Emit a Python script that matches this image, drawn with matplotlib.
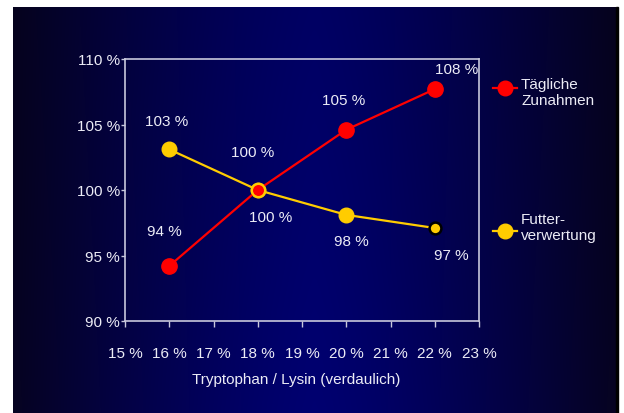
import numpy as np
import matplotlib.pyplot as plt
from matplotlib.lines import Line2D

plt.rcParams['font.family'] = ['Liberation Sans', 'DejaVu Sans']

# Tryptophan / Lysin ratio (%)
trp_lys = [16, 18, 20, 22]
# relative performance (%)
zunahmen = [94.2, 100.0, 104.6, 107.7]
futter = [103.1, 100.0, 98.1, 97.1]
x_ticks = [15, 16, 17, 18, 19, 20, 21, 22, 23]
y_ticks = [90, 95, 100, 105, 110]

RED = '#ff0000'
YEL = '#ffcc00'
TXT = '#ececf6'
FS = 11
W, H = 624, 414
PX = 72 / 100  # points per pixel at dpi 100

fig = plt.figure(figsize=(W / 100, H / 100), dpi=100)
fig.patch.set_facecolor('white')

# dark blue background, brighter in the middle
bg = fig.add_axes([13 / W, 0, (616 - 13) / W, (H - 8) / H])
bg.set_axis_off()
t = np.linspace(-1, 1, 600)
k = np.abs(t) ** 1.3
edge = np.array([6, 3, 32]) / 255
mid = np.array([0, 0, 108]) / 255
row = (1 - k)[:, None] * mid + k[:, None] * edge
v = np.linspace(0, 1, 100)[:, None, None]
img = row[None, :, :] * (0.92 + 0.12 * v)
img = np.clip(img, 0, 1)
bg.imshow(img, aspect='auto', extent=[0, 1, 0, 1], origin='upper')
bg.set_xlim(0, 1)
bg.set_ylim(0, 1)
fig.add_artist(plt.Rectangle((616 / W, 0), 2 / W, (H - 8) / H,
                             transform=fig.transFigure, color='black'))

ax = fig.add_axes([125 / W, (H - 322) / H, 354 / W, 262 / H])
ax.patch.set_alpha(0)
ax.set_xlim(15, 23)
ax.set_ylim(90, 110)
for s in ax.spines.values():
    s.set_color('#c8c8dc')
    s.set_linewidth(1.2)
ax.set_xticks(x_ticks)
ax.set_xticklabels([f'{x} %' for x in x_ticks])
ax.set_yticks(y_ticks)
ax.set_yticklabels([f'{y} %' for y in y_ticks])
ax.tick_params(axis='x', direction='out', length=4, width=1, color='#c8c8dc',
               pad=14, labelsize=FS, labelcolor=TXT)
ax.tick_params(axis='y', direction='out', length=3, width=1, color='#c8c8dc',
               pad=0.5, labelsize=FS, labelcolor=TXT)

# Futterverwertung
ax.plot(trp_lys, futter, color=YEL, lw=1.6, zorder=3)
ax.plot(trp_lys[:3], futter[:3], 'o', color=YEL, ms=10.5, mec=YEL, zorder=3)
ax.plot(trp_lys[3:], futter[3:], 'o', color=YEL, ms=8.5, mec='black', mew=1.8, zorder=3)

# Tägliche Zunahmen
ax.plot(trp_lys, zunahmen, color=RED, lw=1.6, zorder=4)
ax.plot([trp_lys[0], trp_lys[2], trp_lys[3]], [zunahmen[0], zunahmen[2], zunahmen[3]],
        'o', color=RED, ms=11, mec=RED, zorder=4)
ax.plot(trp_lys[1], zunahmen[1], 'o', color=RED, ms=9.5, mec=YEL, mew=1.6, zorder=5)

# value labels, offsets in pixels
z_off = [(-5, 35), (-5, 38), (-3, 30), (22, 20)]
f_off = [(-3, 28), (13, -27), (5, -26), (17, -27)]
for x, y, (dx, dy) in zip(trp_lys, zunahmen, z_off):
    ax.annotate(f'{y:.0f} %', (x, y), xytext=(dx * PX, dy * PX),
                textcoords='offset points', ha='center', va='center',
                color=TXT, fontsize=FS)
for x, y, (dx, dy) in zip(trp_lys, futter, f_off):
    ax.annotate(f'{y:.0f} %', (x, y), xytext=(dx * PX, dy * PX),
                textcoords='offset points', ha='center', va='center',
                color=TXT, fontsize=FS)

fig.text(296 / W, 1 - 380 / H, 'Tryptophan / Lysin (verdaulich)',
         ha='center', va='center', color=TXT, fontsize=FS)

# legend: marker row, text centre row
for y, ty, c, label in [(89, 93, RED, 'Tägliche\nZunahmen'),
                        (232, 228, YEL, 'Futter-\nverwertung')]:
    fy = 1 - y / H
    fig.add_artist(Line2D([493 / W, 517 / W], [fy, fy], transform=fig.transFigure,
                          color=c, lw=1.6))
    fig.add_artist(Line2D([505 / W], [fy], transform=fig.transFigure,
                          marker='o', color=c, ms=10.5))
    fig.text(521 / W, 1 - ty / H, label, ha='left', va='center', color=TXT,
             fontsize=FS, linespacing=1.25)

fig.savefig('out.png', dpi=100)
